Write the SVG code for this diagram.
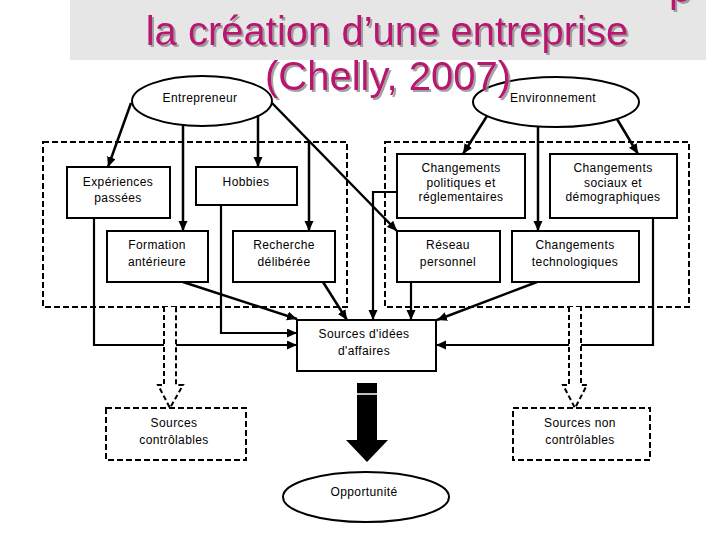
<svg xmlns="http://www.w3.org/2000/svg" width="720" height="540" viewBox="0 0 720 540">
<defs>
<marker id="ah" markerUnits="userSpaceOnUse" markerWidth="11" markerHeight="10" refX="10" refY="4.5" orient="auto">
<path d="M0,0 L10,4.5 L0,9 z" fill="#000"/>
</marker>
<filter id="shadow" x="-5%" y="-20%" width="110%" height="150%">
<feDropShadow dx="2" dy="2" stdDeviation="0.4" flood-color="#8c8c8c" flood-opacity="0.8"/>
</filter>
<style>
.t{font-family:"Liberation Sans",Arial,sans-serif;font-size:12px;letter-spacing:0.4px;fill:#000;text-anchor:middle}
.title{font-family:"Liberation Sans",Arial,sans-serif;font-size:40px;fill:#B8126F;text-anchor:middle;filter:url(#shadow)}
.box{fill:#fff;stroke:#000;stroke-width:2}
.dbox{fill:none;stroke:#000;stroke-width:2;stroke-dasharray:6 3}
.dboxw{fill:#fff;stroke:#000;stroke-width:2;stroke-dasharray:6 3}
.ell{fill:#fff;stroke:#000;stroke-width:2}
.c{fill:none;stroke:#000;stroke-width:2.5;marker-end:url(#ah)}
.c2{fill:none;stroke:#000;stroke-width:2.2;marker-end:url(#ah)}
.hollow{fill:#fff;stroke:#000;stroke-width:2;stroke-dasharray:5 3}
</style>
</defs>
<rect width="720" height="540" fill="#fff"/>

<g id="title">
<rect x="70" y="-1" width="636" height="61" fill="#e6e6e6"/>
<text class="title" x="680" y="2">p</text>
<text class="title" x="387" y="45">la création d’une entreprise</text>
</g>

<g id="groups">
<rect class="dbox" x="43" y="142" width="304" height="165"/>
<rect class="dbox" x="385" y="142" width="304" height="165"/>
</g>

<g id="entrepreneur"><ellipse class="ell" cx="202" cy="101" rx="70" ry="25"/><text class="t" x="200" y="102">Entrepreneur</text></g>
<g id="environnement"><ellipse class="ell" cx="556" cy="102" rx="83" ry="25"/><text class="t" x="553" y="102">Environnement</text></g>

<g id="title2">
<text class="title" x="388" y="90">(Chelly, 2007)</text>
</g>

<g id="connectors">
<line class="c" x1="131" y1="103" x2="108" y2="167"/>
<line class="c" x1="183" y1="124" x2="183" y2="231"/>
<line class="c" x1="258" y1="115" x2="258" y2="167"/>
<line class="c" x1="272" y1="103" x2="397" y2="231"/>
<line class="c" x1="309" y1="141" x2="309" y2="231"/>
<line class="c" x1="487" y1="116" x2="463" y2="154"/>
<line class="c" x1="617" y1="119" x2="638" y2="154"/>
<line class="c" x1="538" y1="127" x2="538" y2="231"/>
<polyline class="c2" points="94,218 94,345 297,345"/>
<polyline class="c2" points="221,205 221,333 297,333"/>
<line class="c" x1="183" y1="282" x2="297" y2="319"/>
<line class="c" x1="323" y1="282" x2="347" y2="320"/>
<polyline class="c2" points="397,192 373,192 373,320"/>
<line class="c2" x1="411" y1="282" x2="411" y2="320"/>
<line class="c" x1="537" y1="282" x2="437" y2="320"/>
<polyline class="c2" points="653,218 653,345 436,345"/>
<path class="hollow" d="M164,307 V385 H158 L170,408 L183,385 H176 V307"/>
<path class="hollow" d="M569,307 V385 H563 L575,408 L587,385 H581 V307"/>
<rect x="357" y="383" width="20" height="58" fill="#000"/>
<line x1="357" y1="394" x2="377" y2="394" stroke="#fff" stroke-width="1.5"/>
<polygon points="346,440 388,440 367,462" fill="#000"/>
</g>

<g id="experiences"><rect class="box" x="67" y="167" width="103" height="51"/><text class="t" x="118" y="186">Expériences</text><text class="t" x="118" y="202">passées</text></g>
<g id="hobbies"><rect class="box" x="196" y="167" width="101" height="38"/><text class="t" x="246" y="186">Hobbies</text></g>
<g id="formation"><rect class="box" x="107" y="231" width="101" height="51"/><text class="t" x="157" y="249">Formation</text><text class="t" x="157" y="266">antérieure</text></g>
<g id="recherche"><rect class="box" x="233" y="231" width="102" height="51"/><text class="t" x="284" y="249">Recherche</text><text class="t" x="284" y="266">délibérée</text></g>
<g id="politiques"><rect class="box" x="397" y="154" width="128" height="64"/><text class="t" x="461" y="172">Changements</text><text class="t" x="461" y="187">politiques et</text><text class="t" x="461" y="201">réglementaires</text></g>
<g id="sociaux"><rect class="box" x="550" y="154" width="127" height="64"/><text class="t" x="613" y="172">Changements</text><text class="t" x="613" y="187">sociaux et</text><text class="t" x="613" y="201">démographiques</text></g>
<g id="reseau"><rect class="box" x="397" y="231" width="103" height="51"/><text class="t" x="448" y="249">Réseau</text><text class="t" x="448" y="266">personnel</text></g>
<g id="techno"><rect class="box" x="512" y="231" width="127" height="51"/><text class="t" x="575" y="249">Changements</text><text class="t" x="575" y="266">technologiques</text></g>
<g id="sources"><rect class="box" x="297" y="320" width="139" height="51"/><text class="t" x="364" y="338">Sources d'idées</text><text class="t" x="364" y="355">d'affaires</text></g>
<g id="controlables"><rect class="dboxw" x="106" y="408" width="140" height="52"/><text class="t" x="174" y="427">Sources</text><text class="t" x="174" y="444">contrôlables</text></g>
<g id="noncontrolables"><rect class="dboxw" x="513" y="408" width="137" height="52"/><text class="t" x="580" y="427">Sources non</text><text class="t" x="580" y="444">contrôlables</text></g>
<g id="opportunite"><ellipse class="ell" cx="366" cy="497" rx="83" ry="25"/><text class="t" x="364" y="496">Opportunité</text></g>
</svg>
